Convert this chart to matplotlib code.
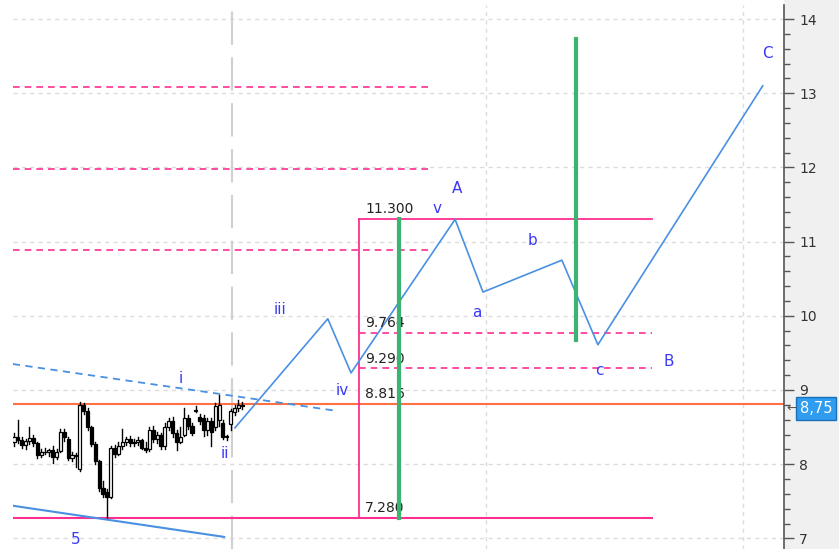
import numpy as np
import matplotlib.pyplot as plt
from matplotlib.patches import Rectangle
from matplotlib.ticker import MultipleLocator

# 蜡烛图数据 (开, 高, 低, 收)，x 为 K 线序号
opens = [8.30, 8.36, 8.32, 8.26, 8.31, 8.35, 8.28, 8.12, 8.17, 8.16,
         8.19, 8.10, 8.18, 8.44, 8.34, 8.08, 8.13, 7.93, 8.80, 8.72,
         8.50, 8.27, 8.04, 7.68, 7.62, 7.56, 8.22, 8.14, 8.25, 8.30,
         8.34, 8.28, 8.30, 8.32, 8.22, 8.20, 8.46, 8.34, 8.40, 8.24,
         8.50, 8.58, 8.42, 8.30, 8.40, 8.62, 8.52, 8.72, 8.64, 8.62,
         8.46, 8.58, 8.50, 8.60, 8.56, 8.36, 8.54, 8.70, 8.76, 8.80]
highs = [8.42, 8.60, 8.36, 8.34, 8.50, 8.40, 8.30, 8.20, 8.22, 8.21,
         8.24, 8.21, 8.48, 8.47, 8.36, 8.16, 8.15, 8.84, 8.82, 8.76,
         8.52, 8.30, 8.06, 7.78, 7.66, 8.24, 8.26, 8.30, 8.48, 8.36,
         8.38, 8.34, 8.36, 8.34, 8.30, 8.50, 8.52, 8.44, 8.42, 8.56,
         8.62, 8.64, 8.46, 8.50, 8.76, 8.66, 8.56, 8.78, 8.68, 8.66,
         8.62, 8.62, 8.82, 8.93, 8.60, 8.40, 8.74, 8.80, 8.86, 8.84]
lows = [8.24, 8.28, 8.22, 8.21, 8.27, 8.25, 8.09, 8.10, 8.14, 8.11,
        8.02, 8.07, 8.16, 8.31, 8.05, 8.04, 7.96, 7.91, 8.68, 8.46,
        8.24, 8.00, 7.64, 7.56, 7.28, 7.54, 8.10, 8.12, 8.20, 8.26,
        8.24, 8.24, 8.26, 8.20, 8.16, 8.18, 8.30, 8.28, 8.20, 8.20,
        8.46, 8.36, 8.19, 8.28, 8.38, 8.48, 8.40, 8.70, 8.54, 8.38,
        8.40, 8.24, 8.46, 8.52, 8.34, 8.32, 8.46, 8.66, 8.72, 8.74]
closes = [8.36, 8.32, 8.26, 8.31, 8.35, 8.28, 8.12, 8.17, 8.16, 8.19,
          8.10, 8.17, 8.44, 8.37, 8.08, 8.13, 8.11, 8.80, 8.72, 8.50,
          8.27, 8.04, 7.68, 7.60, 7.56, 8.22, 8.14, 8.25, 8.30, 8.34,
          8.28, 8.30, 8.33, 8.22, 8.19, 8.46, 8.34, 8.40, 8.24, 8.50,
          8.58, 8.42, 8.30, 8.36, 8.62, 8.52, 8.42, 8.73, 8.58, 8.46,
          8.58, 8.44, 8.78, 8.80, 8.36, 8.38, 8.72, 8.76, 8.80, 8.78]

# 波浪路径 (K 线序号, 价格)
wave_x = [57.1, 81.1, 87.1, 114.0, 121.2, 141.6, 150.9, 193.5]
wave_y = [8.49, 9.96, 9.23, 11.30, 10.32, 10.75, 9.61, 13.10]

# 波浪标注
lab_text = ['5', 'i', 'ii', 'iii', 'iv', 'v', 'A', 'a', 'b', 'c', 'B', 'C']
lab_x = [16.0, 43.2, 54.5, 68.7, 84.8, 109.3, 114.5, 119.6, 133.9, 151.4, 169.3, 194.6]
lab_y = [6.98, 9.16, 8.15, 10.08, 8.99, 11.45, 11.71, 10.04, 11.01, 9.26, 9.38, 13.53]

# 斐波那契价位
fib_levels = [11.300, 9.764, 9.290, 8.816, 7.280]
left_levels = [13.09, 11.98, 10.89]
last_price = 8.75

# 趋势线
trend_dash_x, trend_dash_y = [-0.3, 83.2], [9.35, 8.72]
trend_low_x, trend_low_y = [-0.3, 54.3], [7.44, 7.02]
box_x0, box_x1 = 89.1, 164.9
green_x = [99.5, 145.2]
green_lo = [7.28, 9.67]
green_hi = [11.30, 13.73]
vgrid = [122.0, 188.4]
now_x = 56.3

pink = '#ff2f92'
blue = '#4a90e2'
lab_col = '#3a3af8'

fig = plt.figure(figsize=(8.39, 5.49), dpi=100)
fig.patches.append(Rectangle((784 / 839, 0), 1 - 784 / 839, 1, transform=fig.transFigure,
                             facecolor='#f0f0f0', edgecolor='none', zorder=-1))
ax = fig.add_axes([13 / 839, 0, 771 / 839, 544 / 549])
ax.set_xlim(-0.26, 199.0)
ax.set_ylim(6.857, 14.189)

# 网格
for v in range(7, 15):
    ax.axhline(v, color='#dcdcdc', lw=1, ls=(0, (3, 3)), zorder=1)
for xv in vgrid:
    ax.axvline(xv, color='#dcdcdc', lw=1, ls=(0, (3, 3)), zorder=1)
ax.axvline(now_x, color='#d0d0d0', lw=1.5, ls=(0, (16, 6)), zorder=1)

# 蜡烛图
for i in range(len(opens)):
    o, h, l, c = opens[i], highs[i], lows[i], closes[i]
    ax.plot([i, i], [l, h], color='black', lw=1, zorder=3)
    fc = 'white' if c >= o else 'black'
    ax.add_patch(Rectangle((i - 0.4, min(o, c)), 0.8, max(abs(c - o), 0.01),
                           facecolor=fc, edgecolor='black', lw=0.9, zorder=4))

# 水平线
ax.axhline(fib_levels[3], color='#ff7043', lw=1.5, zorder=2)
ax.plot([-0.3, box_x1], [fib_levels[4]] * 2, color=pink, lw=1.5, zorder=2)
ax.plot([box_x0, box_x1], [fib_levels[0]] * 2, color=pink, lw=1.3, zorder=2)
ax.plot([box_x0, box_x0], [fib_levels[4], fib_levels[0]], color=pink, lw=1.3, zorder=2)
for v in fib_levels[1:3]:
    ax.plot([box_x0, box_x1], [v, v], color=pink, lw=1.2, ls=(0, (4, 3)), zorder=2)
for v in left_levels:
    ax.plot([-0.3, 107.5], [v, v], color=pink, lw=1.2, ls=(0, (4, 3)), zorder=2)

for v in fib_levels:
    ax.text(box_x0 + 1.6, v + 0.04, '%.3f' % v, fontsize=10, color='#222222',
            ha='left', va='bottom', zorder=6)

# 趋势线与波浪
ax.plot(trend_dash_x, trend_dash_y, color=blue, lw=1.3, ls=(0, (4, 3)), zorder=5)
ax.plot(trend_low_x, trend_low_y, color=blue, lw=1.5, zorder=5)
ax.plot(wave_x, wave_y, color=blue, lw=1.2, zorder=5)

for gx, lo, hi in zip(green_x, green_lo, green_hi):
    ax.plot([gx, gx], [lo, hi], color='#3cb371', lw=3, zorder=6)

for t, x, y in zip(lab_text, lab_x, lab_y):
    ax.text(x, y, t, fontsize=11, color=lab_col, ha='center', va='center', zorder=7)

# 坐标轴
for s in ['left', 'top', 'bottom']:
    ax.spines[s].set_visible(False)
ax.spines['right'].set_color('#555555')
ax.spines['right'].set_linewidth(1.2)
ax.set_xticks([])
ax.yaxis.tick_right()
ax.yaxis.set_major_locator(MultipleLocator(1))
ax.yaxis.set_minor_locator(MultipleLocator(0.2))
ax.tick_params(axis='y', which='major', length=7, width=1, color='#555555',
               labelsize=10, labelcolor='#333333', pad=4)
ax.tick_params(axis='y', which='minor', length=4, width=1, color='#555555')

# 最新价格标签
ax.annotate('8,75', xy=(1.0, last_price), xycoords=('axes fraction', 'data'),
            xytext=(11.5, 0), textcoords='offset points', fontsize=10.5, color='white',
            ha='left', va='center', annotation_clip=False, zorder=8,
            bbox=dict(boxstyle='square,pad=0.25', facecolor='#2f9cf0', edgecolor='#1a6fb8', lw=1))
ax.annotate('\u2190', xy=(1.0, last_price), xycoords=('axes fraction', 'data'),
            xytext=(2, 0), textcoords='offset points', fontsize=9, color='#555555',
            ha='left', va='center', annotation_clip=False, zorder=9)

fig.savefig('out.png', dpi=100)
